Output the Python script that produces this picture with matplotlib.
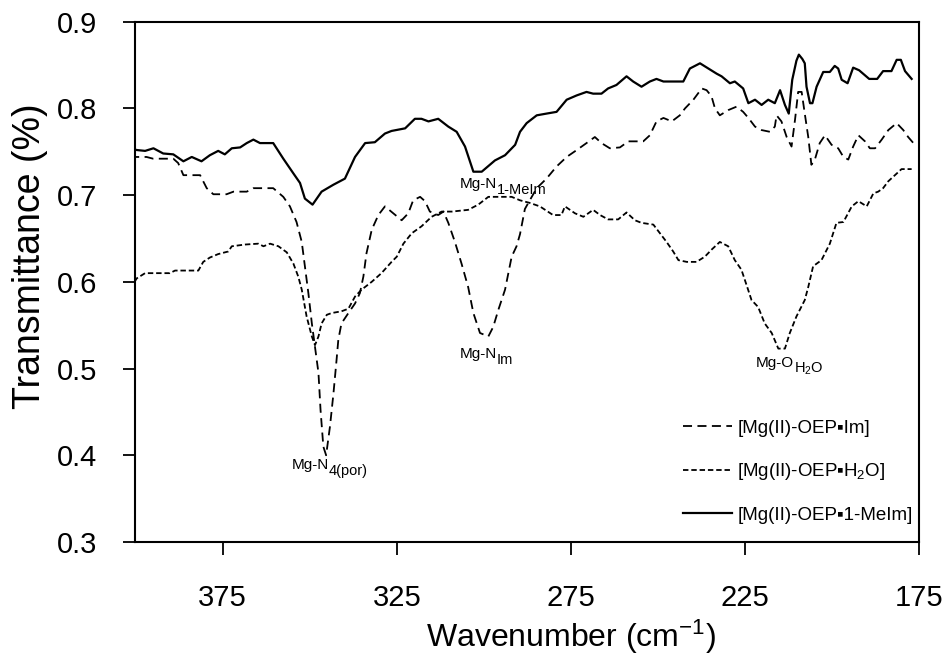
import numpy as np
import matplotlib
matplotlib.use("Agg")
import matplotlib.pyplot as plt

plt.rcParams['font.family'] = ['Liberation Sans', 'DejaVu Sans']
plt.rcParams['mathtext.fontset'] = 'custom'
plt.rcParams['mathtext.rm'] = 'Liberation Sans'
plt.rcParams['mathtext.it'] = 'Liberation Sans'

# ---- data ----------------------------------------------------

# [Mg(II)-OEP.1-MeIm], solid
wn_meim = [401.6, 399.7, 397.3, 394.9, 392.1, 389.2, 386.3, 383.9, 381.1, 378.7,
           376.3, 374.4, 372.4, 370.0, 368.1, 366.2, 364.3, 360.5, 357.6, 354.7,
           352.8, 351.4, 349.2, 346.6, 343.2, 339.9, 337.0, 334.1, 331.3, 328.4,
           326.5, 322.6, 319.8, 317.9, 315.9, 313.1, 310.2, 307.8, 305.4, 303.0,
           300.6, 296.8, 293.9, 291.0, 289.6, 287.7, 284.8, 282.0, 279.1, 276.2,
           273.3, 270.5, 268.6, 266.2, 264.3, 261.9, 259.0, 257.1, 254.7, 252.3,
           250.4, 248.4, 242.7, 240.8, 237.9, 235.5, 233.1, 231.7, 229.3, 227.9,
           225.5, 224.0, 222.1, 220.2, 218.3, 216.4, 214.9, 213.5, 212.4, 211.4,
           210.2, 209.5, 208.5, 207.8, 207.3, 206.3, 205.6, 204.4, 202.5, 200.6,
           199.2, 198.2, 197.2, 195.5, 193.9, 192.2, 189.3, 187.0, 185.3, 182.9,
           181.4, 180.2, 179.0, 177.1]
t_meim = [0.754, 0.752, 0.751, 0.754, 0.748, 0.747, 0.739, 0.744, 0.739, 0.746,
          0.751, 0.747, 0.754, 0.755, 0.760, 0.764, 0.760, 0.760, 0.742, 0.725,
          0.714, 0.696, 0.689, 0.704, 0.712, 0.719, 0.744, 0.760, 0.761, 0.771,
          0.774, 0.777, 0.788, 0.788, 0.785, 0.788, 0.779, 0.773, 0.756, 0.727,
          0.727, 0.740, 0.746, 0.758, 0.773, 0.783, 0.792, 0.794, 0.796, 0.810,
          0.815, 0.819, 0.817, 0.817, 0.823, 0.827, 0.837, 0.831, 0.825, 0.831,
          0.834, 0.831, 0.831, 0.846, 0.852, 0.846, 0.840, 0.837, 0.829, 0.831,
          0.823, 0.806, 0.810, 0.804, 0.810, 0.806, 0.821, 0.804, 0.794, 0.833,
          0.855, 0.862, 0.857, 0.852, 0.825, 0.806, 0.806, 0.825, 0.842, 0.842,
          0.849, 0.846, 0.833, 0.829, 0.847, 0.844, 0.834, 0.834, 0.843, 0.843,
          0.856, 0.856, 0.843, 0.834]

# [Mg(II)-OEP.Im], long dashes
wn_im = [401.6, 396.9, 395.0, 389.2, 387.8, 386.3, 381.5, 379.6, 377.7, 373.9,
         371.9, 368.1, 366.2, 360.5, 357.6, 355.7, 353.8, 352.3, 351.4, 350.4,
         349.4, 348.5, 347.5, 346.9, 346.1, 345.3, 344.2, 343.2, 342.3, 341.8,
         340.9, 338.9, 337.0, 335.6, 334.6, 333.7, 332.2, 330.3, 328.4, 326.0,
         323.6, 321.7, 320.3, 318.3, 316.9, 315.5, 313.1, 311.6, 310.2, 308.3,
         306.4, 304.5, 303.0, 301.1, 298.7, 297.3, 295.8, 293.9, 292.0, 290.6,
         289.6, 288.2, 286.8, 284.8, 282.0, 279.1, 276.2, 273.3, 270.5, 268.1,
         266.2, 263.8, 260.9, 258.5, 254.2, 252.3, 250.4, 248.4, 246.0, 243.7,
         242.2, 239.8, 237.4, 236.0, 234.6, 233.6, 232.2, 229.8, 227.4, 225.5,
         224.0, 222.1, 220.2, 217.8, 216.4, 215.9, 214.5, 213.0, 211.6, 210.6,
         209.7, 208.7, 207.8, 206.8, 205.9, 204.9, 203.5, 202.0, 200.1, 198.2,
         196.7, 195.3, 193.9, 192.4, 190.5, 189.1, 187.6, 185.7, 183.8, 181.4,
         179.5, 178.1, 176.6]
t_im = [0.744, 0.744, 0.742, 0.742, 0.737, 0.723, 0.723, 0.708, 0.701, 0.701,
        0.704, 0.704, 0.708, 0.708, 0.698, 0.687, 0.669, 0.646, 0.618, 0.587,
        0.552, 0.525, 0.495, 0.452, 0.410, 0.400, 0.433, 0.471, 0.510, 0.533,
        0.552, 0.564, 0.575, 0.587, 0.606, 0.633, 0.660, 0.677, 0.687, 0.679,
        0.671, 0.679, 0.694, 0.698, 0.693, 0.681, 0.677, 0.681, 0.668, 0.646,
        0.621, 0.594, 0.564, 0.541, 0.537, 0.548, 0.568, 0.591, 0.629, 0.641,
        0.655, 0.684, 0.694, 0.708, 0.719, 0.733, 0.744, 0.752, 0.760, 0.767,
        0.760, 0.754, 0.755, 0.762, 0.762, 0.769, 0.785, 0.789, 0.785, 0.792,
        0.800, 0.810, 0.823, 0.821, 0.814, 0.800, 0.792, 0.798, 0.802, 0.796,
        0.789, 0.779, 0.775, 0.773, 0.779, 0.792, 0.785, 0.767, 0.756, 0.787,
        0.819, 0.819, 0.794, 0.767, 0.735, 0.741, 0.760, 0.769, 0.758, 0.754,
        0.744, 0.741, 0.756, 0.769, 0.762, 0.754, 0.754, 0.764, 0.775, 0.783,
        0.775, 0.767, 0.760]

# [Mg(II)-OEP.H2O], short dashes
wn_h2o = [401.6, 399.7, 397.3, 390.2, 388.7, 382.0, 380.6, 378.7, 376.3, 373.4,
          372.4, 368.6, 364.8, 363.3, 361.4, 359.0, 356.6, 354.7, 353.3, 352.3,
          350.9, 349.4, 348.5, 347.5, 346.6, 345.1, 343.7, 340.9, 338.9, 337.0,
          335.1, 332.2, 329.4, 326.5, 325.0, 323.1, 320.7, 317.9, 315.0, 312.1,
          309.2, 304.5, 301.6, 298.7, 292.0, 289.6, 286.8, 283.9, 280.1, 277.7,
          276.7, 273.8, 271.4, 268.6, 266.6, 264.3, 261.4, 259.0, 256.6, 254.7,
          251.3, 249.4, 247.5, 245.6, 244.1, 241.7, 238.9, 236.5, 234.6, 232.2,
          229.8, 227.9, 226.0, 224.5, 223.1, 221.2, 219.3, 217.3, 215.4, 213.5,
          212.1, 210.2, 207.8, 206.8, 205.4, 203.0, 200.6, 198.7, 196.7, 194.3,
          192.4, 190.0, 188.1, 186.7, 185.3, 183.8, 181.9, 180.0, 177.1]
t_h2o = [0.592, 0.604, 0.610, 0.610, 0.613, 0.613, 0.623, 0.628, 0.632, 0.635,
         0.641, 0.643, 0.644, 0.641, 0.644, 0.641, 0.634, 0.621, 0.606, 0.591,
         0.560, 0.537, 0.527, 0.537, 0.552, 0.562, 0.564, 0.566, 0.569, 0.583,
         0.591, 0.600, 0.610, 0.623, 0.629, 0.644, 0.656, 0.664, 0.675, 0.681,
         0.681, 0.683, 0.689, 0.698, 0.698, 0.694, 0.691, 0.687, 0.677, 0.677,
         0.687, 0.679, 0.675, 0.683, 0.677, 0.672, 0.672, 0.680, 0.671, 0.668,
         0.666, 0.656, 0.646, 0.635, 0.625, 0.623, 0.623, 0.629, 0.637, 0.646,
         0.641, 0.625, 0.614, 0.596, 0.579, 0.571, 0.552, 0.541, 0.523, 0.523,
         0.541, 0.560, 0.579, 0.594, 0.618, 0.625, 0.644, 0.668, 0.669, 0.687,
         0.693, 0.687, 0.702, 0.704, 0.708, 0.716, 0.723, 0.730, 0.730]

labels = ['[Mg(II)-OEP\u25aaIm]', '[Mg(II)-OEP\u25aaH$_2$O]', '[Mg(II)-OEP\u25aa1-MeIm]']

# band assignments: (wavenumber, transmittance, main text, lowered text)
bands = [(344.6, 0.384, 'Mg-N', '4(por)'),
         (296.3, 0.512, 'Mg-N', 'Im'),
         (210.9, 0.502, 'Mg-O', 'H$_2$O'),
         (296.2, 0.708, 'Mg-N', '1-MeIm')]


fig = plt.figure(figsize=(9.43, 6.65), dpi=100)
ax = fig.add_axes([0.1428, 0.185, 0.8317, 0.7824])

l_im, = ax.plot(wn_im, t_im, color='black', lw=1.3, linestyle=(0, (5, 3)))
l_h2o, = ax.plot(wn_h2o, t_h2o, color='black', lw=1.3, linestyle=(0, (3, 1.6)))
l_meim, = ax.plot(wn_meim, t_meim, color='black', lw=1.6)

for (x, y, main, sub) in bands:
    ax.text(x, y, main, ha='right', va='baseline', fontsize=11)
    ax.annotate(sub, xy=(x, y), xytext=(0, -4), textcoords='offset points',
                ha='left', va='baseline', fontsize=10.5)

ax.set_xlim(400.3, 175)
ax.set_ylim(0.3, 0.9)
ax.set_xticks([375, 325, 275, 225, 175])
ax.set_yticks([0.3, 0.4, 0.5, 0.6, 0.7, 0.8, 0.9])
ax.set_yticklabels(['0.3', '0.4', '0.5', '0.6', '0.7', '0.8', '0.9'])
ax.tick_params(axis='both', direction='out', length=9, width=1.3, labelsize=21)
ax.tick_params(axis='x', pad=21)
ax.tick_params(axis='y', pad=18)
for s in ax.spines.values():
    s.set_linewidth(1.5)

ax.set_xlabel('Wavenumber (cm$^{-1}$)', fontsize=23)
ax.set_ylabel('Transmittance (%)', fontsize=27)
ax.xaxis.set_label_coords(0.556, -0.145)
ax.yaxis.set_label_coords(-0.11, 0.55)

ax.legend([l_im, l_h2o, l_meim], labels, loc='lower left',
          bbox_to_anchor=(0.699, 0.035), frameon=False, fontsize=13.5,
          handlelength=2.6, handletextpad=0.3, labelspacing=1.3,
          borderpad=0, borderaxespad=0)

fig.savefig('out.png', dpi=100)
